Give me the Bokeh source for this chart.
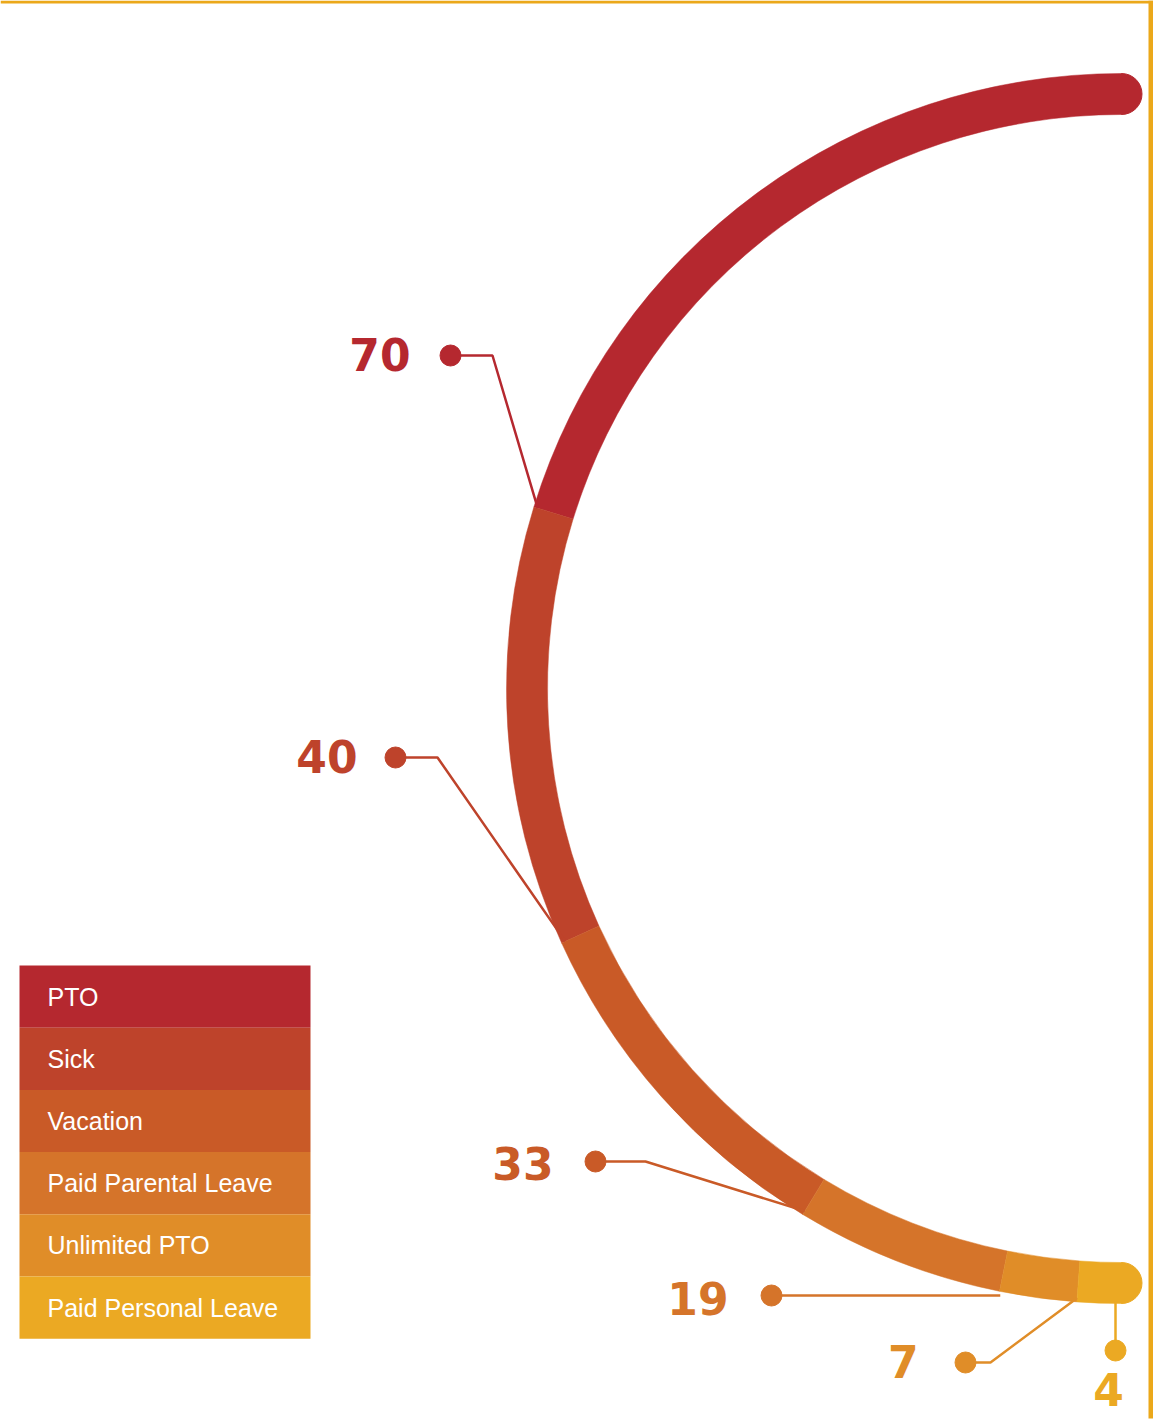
import math
from bokeh.plotting import figure
from bokeh.models import Range1d, ColumnDataSource, BoxAnnotation
from bokeh.core.properties import value
from bokeh.embed import file_html
from bokeh.resources import INLINE

# ---- data ----
categories = ["PTO", "Sick", "Vacation", "Paid Parental Leave", "Unlimited PTO", "Paid Personal Leave"]
counts = [70, 40, 33, 19, 7, 4]
colors = ["#B5282F", "#BE432B", "#C95A27", "#D5742A", "#E08D28", "#EBA923"]

# ---- layout ----
W, H = 1153, 1427
def Y(py):
    return H - py

CX, CY = 1121, Y(688)
R_IN, R_OUT = 574, 615

p = figure(width=W, height=H, x_range=Range1d(0, W), y_range=Range1d(0, H),
           output_backend="svg", toolbar_location=None, min_border=0)
p.axis.visible = False
p.grid.visible = False
p.outline_line_color = None
p.background_fill_color = "white"

# arc segments: from top (90 deg) anticlockwise to bottom (270 deg)
total = sum(counts)
starts, ends = [], []
a = 90.0
for c in counts:
    starts.append(a)
    a += 180.0 * c / total
    ends.append(a)

src = ColumnDataSource(dict(
    x=[CX] * len(counts), y=[CY] * len(counts),
    start=[math.radians(s) for s in starts],
    end=[math.radians(e) for e in ends],
    color=colors))
p.annular_wedge(x="x", y="y", inner_radius=R_IN, outer_radius=R_OUT,
                start_angle="start", end_angle="end", direction="anticlock",
                fill_color="color", line_color="color", line_width=0.5, source=src)

# round caps
RM = (R_IN + R_OUT) / 2
CAPR = (R_OUT - R_IN) / 2
p.wedge(x=[CX, CX], y=[CY + RM, CY - RM], radius=CAPR,
        start_angle=[-math.pi / 2, -math.pi / 2], end_angle=[math.pi / 2, math.pi / 2],
        fill_color=[colors[0], colors[-1]], line_color=[colors[0], colors[-1]])

# leader lines: dot position, elbow, end at boundary (end angle of segment)
dots = [(450, 355), (395, 757), (595, 1161), (771, 1295), (965, 1362), (1115, 1350)]
elbows = [(492, 355), (437, 757), (645, 1161), None, (990, 1362), None]
label_pos = [(410, 354), (357, 756), (553, 1163), (728, 1298), (918, 1361), (1108, 1389)]
label_align = ["right", "right", "right", "right", "right", "center"]

for i, c in enumerate(counts):
    col = colors[i]
    dx, dy = dots[i]
    if i < len(counts) - 1:
        ang = math.radians(ends[i])
        ex = CX + (R_OUT - 4) * math.cos(ang)
        ey = CY + (R_OUT - 4) * math.sin(ang)
    else:
        ex = dx
        ey = CY - math.sqrt(R_OUT ** 2 - (CX - dx) ** 2) + 2
    xs = [dx]
    ys = [Y(dy)]
    if elbows[i] is not None:
        xs.append(elbows[i][0]); ys.append(Y(elbows[i][1]))
    if i == 3:
        xs.append(ex); ys.append(Y(dy))
    else:
        xs.append(ex); ys.append(ey)
    p.line(xs, ys, line_color=col, line_width=2.5)
    p.scatter([dx], [Y(dy)], size=21, marker="circle", fill_color=col, line_color=col)
    lx, ly = label_pos[i]
    p.text([lx], [Y(ly)], text=[str(c)], text_color=col,
           text_font=value("DejaVu Sans"), text_font_style="bold",
           text_font_size="44px", text_align=label_align[i], text_baseline="middle")

# legend block
LX0, LX1 = 19, 310
LY0, ROWH = 965, 62.2
tops = [Y(LY0 + i * ROWH) for i in range(len(categories))]
bots = [Y(LY0 + (i + 1) * ROWH) for i in range(len(categories))]
p.quad(left=[LX0] * len(categories), right=[LX1] * len(categories), top=tops, bottom=bots,
       fill_color=colors, line_color=None)
p.text([47] * len(categories), [(t + b) / 2 for t, b in zip(tops, bots)], text=categories,
       text_color="white", text_font=value("Liberation Sans"),
       text_font_size="25px", text_align="left", text_baseline="middle")

# orange frame (top and right edges)
p.add_layout(BoxAnnotation(left=0, right=W, bottom=Y(3), top=H, fill_color="#EBA81A",
                           fill_alpha=1, line_color=None))
p.add_layout(BoxAnnotation(left=1148, right=W, bottom=Y(1418), top=H, fill_color="#EBA81A",
                           fill_alpha=1, line_color=None))

open("out.html", "w").write(file_html(p, INLINE))
